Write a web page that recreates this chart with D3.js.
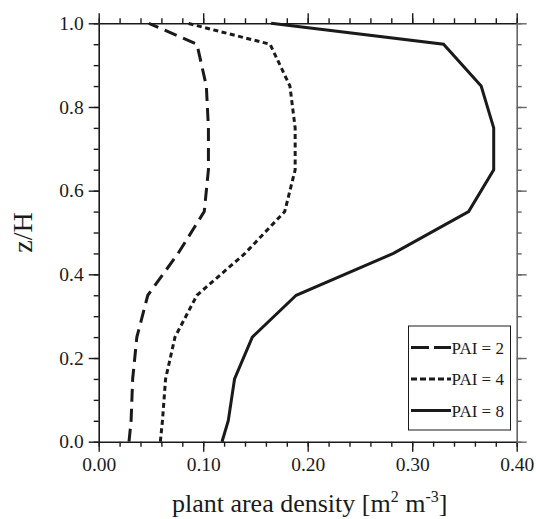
<!DOCTYPE html>
<html>
<head>
<meta charset="utf-8">
<script src="https://cdn.jsdelivr.net/npm/d3@7"></script>
<style>
  html, body { margin: 0; padding: 0; background: #fff; }
  svg { display: block; font-family: "Liberation Serif", "Times New Roman", serif; }
</style>
</head>
<body>
<svg id="chart" width="536" height="519"></svg>
<script>
// Normalised height within the canopy (z/H)
const heights = [0, 0.05, 0.15, 0.25, 0.35, 0.45, 0.55, 0.65, 0.75, 0.85, 0.95, 1.0];
// Plant area density profiles [m2 m-3] for each plant area index
const pai2 = [0.029, 0.031, 0.0325, 0.0365, 0.047, 0.076, 0.101, 0.105, 0.105, 0.103, 0.094, 0.048];
const pai4 = [0.059, 0.061, 0.064, 0.073, 0.094, 0.140, 0.178, 0.188, 0.188, 0.183, 0.164, 0.085];
const pai8 = [0.118, 0.124, 0.130, 0.147, 0.189, 0.282, 0.354, 0.378, 0.378, 0.366, 0.330, 0.165];
const seriesNames = ["PAI = 2", "PAI = 4", "PAI = 8"];
const xTickValues = [0, 0.1, 0.2, 0.3, 0.4];
const yTickValues = [0, 0.2, 0.4, 0.6, 0.8, 1.0];

const svg = d3.select("#chart");
const plotLeft = 98.7, plotRight = 516.7, plotTop = 23.3, plotBottom = 441.7;

const x = d3.scaleLinear().domain([0, 0.4]).range([plotLeft, plotRight]);
const y = d3.scaleLinear().domain([0, 1]).range([plotBottom, plotTop]);

const minorX = d3.range(0, 0.4001, 0.02);
const minorY = d3.range(0, 1.0001, 0.05);

function styleAxis(g, color) {
  g.attr("font-family", "Liberation Serif, serif");
  g.select(".domain").attr("stroke", color).attr("stroke-width", 1.6);
  g.selectAll(".tick line").attr("stroke", color).attr("stroke-width", 1.4);
  g.selectAll("text").attr("fill", "#1a1a1a").attr("font-size", 19.5);
}

// minor ticks (short) and major ticks (long) on all four sides
function drawAxis(axisFn, scale, transform, majors, minors, withLabels, fmt, color) {
  const gMinor = svg.append("g").attr("transform", transform)
    .call(axisFn(scale).tickValues(minors).tickSize(5).tickFormat(""));
  gMinor.select(".domain").remove();
  gMinor.selectAll(".tick line").attr("stroke", color).attr("stroke-width", 1.4);
  const g = svg.append("g").attr("transform", transform)
    .call(axisFn(scale).tickValues(majors).tickSize(10).tickSizeOuter(0)
      .tickPadding(withLabels ? 5 : 0).tickFormat(withLabels ? fmt : ""));
  styleAxis(g, color);
  return g;
}

const fmtX = d3.format(".2f"), fmtY = d3.format(".1f");
drawAxis(d3.axisBottom, x, `translate(0,${plotBottom})`, xTickValues, minorX, true, fmtX, "#1a1a1a");
drawAxis(d3.axisTop, x, `translate(0,${plotTop})`, xTickValues, minorX, false, fmtX, "#1a1a1a");
drawAxis(d3.axisLeft, y, `translate(${plotLeft},0)`, yTickValues, minorY, true, fmtY, "#1a1a1a");
drawAxis(d3.axisRight, y, `translate(${plotRight},0)`, yTickValues, minorY, false, fmtY, "#666");

// profiles
const line = d3.line().x(d => x(d[0])).y(d => y(d[1]));
const series = [
  { name: seriesNames[0], values: pai2, dash: "13,7" },
  { name: seriesNames[1], values: pai4, dash: "5,3.5" },
  { name: seriesNames[2], values: pai8, dash: null }
];
series.forEach(s => {
  svg.append("path")
    .datum(s.values.map((v, i) => [v, heights[i]]))
    .attr("d", line)
    .attr("fill", "none")
    .attr("stroke", "#1a1a1a")
    .attr("stroke-width", 3)
    .attr("stroke-linejoin", "miter")
    .attr("stroke-dasharray", s.dash);
});

// legend
const lg = svg.append("g");
lg.append("rect").attr("x", 408.5).attr("y", 326).attr("width", 102).attr("height", 104)
  .attr("fill", "#fff").attr("stroke", "#1a1a1a").attr("stroke-width", 1);
const legendDash = ["18,5", "6,3", null];
series.forEach((s, i) => {
  const cy = 347.5 + i * 31.5;
  lg.append("line").attr("x1", 411).attr("x2", 451).attr("y1", cy).attr("y2", cy)
    .attr("stroke", "#1a1a1a").attr("stroke-width", 3).attr("stroke-dasharray", legendDash[i]);
  lg.append("text").attr("x", 451.5).attr("y", cy + 6).attr("font-size", 17)
    .attr("fill", "#1a1a1a").text(s.name);
});

// axis titles
const xt = svg.append("text").attr("x", (plotLeft + plotRight) / 2 + 2).attr("y", 512)
  .attr("text-anchor", "middle").attr("font-size", 26).attr("fill", "#1a1a1a");
xt.append("tspan").text("plant area density [m");
xt.append("tspan").attr("dy", -10).attr("font-size", 16).text("2");
xt.append("tspan").attr("dy", 10).text(" m");
xt.append("tspan").attr("dy", -10).attr("font-size", 16).text("-3");
xt.append("tspan").attr("dy", 10).text("]");

svg.append("text").attr("transform", `translate(31.5,${(plotTop + plotBottom) / 2}) rotate(-90)`)
  .attr("text-anchor", "middle").attr("font-size", 28).attr("fill", "#1a1a1a").text("z/H");
</script>
</body>
</html>
